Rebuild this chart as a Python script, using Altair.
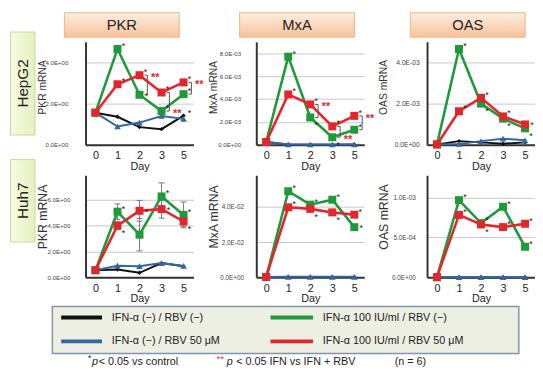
import altair as alt
import pandas as pd

# ---------------- data ----------------
days = ["0", "1", "2", "3", "5"]
series_keys = ["ctrl", "rbv", "ifn", "ifnrbv"]
series_labels = ["IFN-α (−) / RBV (−)", "IFN-α (−) / RBV 50 μM",
                 "IFN-α 100 IU/ml / RBV (−)", "IFN-α 100 IU/ml / RBV 50 μM"]
series_colors = ["#111111", "#35679f", "#1e9a3a", "#e3262c"]
series_shapes = ["diamond", "triangle-up", "square", "square"]

hep_pkr_ctrl = [1.56, 1.36, 0.86, 0.76, 1.42]
hep_pkr_rbv = [1.56, 0.89, 1.08, 1.40, 1.26]
hep_pkr_ifn = [1.56, 4.65, 2.43, 1.64, 2.46]
hep_pkr_ifnrbv = [1.56, 2.94, 3.38, 2.54, 3.03]

hep_mxa_ctrl = [0.00025, 0.00003, 0.00002, 0.00002, 0.00003]
hep_mxa_rbv = [0.00025, 0.00003, 0.00003, 0.00003, 0.00003]
hep_mxa_ifn = [0.00025, 0.0077, 0.00239, 0.00066, 0.00132]
hep_mxa_ifnrbv = [0.00025, 0.0044, 0.00353, 0.00161, 0.00253]

hep_oas_ctrl = [0.00002, 0.00018, 0.00012, 0.00005, 0.00012]
hep_oas_rbv = [0.00002, 0.00004, 0.00018, 0.0003, 0.00022]
hep_oas_ifn = [0.00002, 0.00465, 0.002, 0.00127, 0.0008]
hep_oas_ifnrbv = [0.00002, 0.00163, 0.00228, 0.00138, 0.00099]

huh_pkr_ctrl = [0.55, 0.6, 0.35, 1.1, 0.85]
huh_pkr_rbv = [0.55, 0.9, 0.86, 1.1, 0.88]
huh_pkr_ifn = [0.55, 5.08, 3.3, 6.26, 4.83]
huh_pkr_ifnrbv = [0.55, 4.0, 5.15, 5.28, 4.32]
huh_pkr_ifn_err = [0, 0.6, 1.25, 1.05, 1.0]
huh_pkr_ifnrbv_err = [0, 0.3, 0.8, 0.7, 0.4]

huh_mxa_ctrl = [0.0002, 0.0002, 0.0002, 0.0002, 0.0002]
huh_mxa_rbv = [0.0002, 0.0003, 0.0003, 0.0003, 0.0003]
huh_mxa_ifn = [0.0002, 0.0489, 0.0413, 0.0441, 0.0285]
huh_mxa_ifnrbv = [0.0002, 0.0398, 0.0389, 0.0369, 0.0356]

huh_oas_ctrl = [0.000002, 0.000002, 0.000002, 0.000002, 0.000002]
huh_oas_rbv = [0.000002, 0.000003, 0.000003, 0.000003, 0.000003]
huh_oas_ifn = [0.000002, 0.000968, 0.00068, 0.000885, 0.000383]
huh_oas_ifnrbv = [0.000002, 0.000783, 0.000663, 0.00063, 0.000672]

# significance marks: (series, day, placement)
hep_pkr_stars = [("ifn", "1", "ur"), ("ifnrbv", "1", "ur"), ("ifnrbv", "2", "ur"), ("ifn", "2", "r"),
                 ("ifnrbv", "3", "ur"), ("ifn", "3", "ur"), ("ifnrbv", "5", "ur"), ("ifn", "5", "ur"),
                 ("ctrl", "5", "ur")]
hep_mxa_stars = [("ifn", "1", "ur"), ("ifnrbv", "1", "ur"), ("ifnrbv", "2", "ur"), ("ifn", "2", "lr"),
                 ("ifnrbv", "3", "ur"), ("ifn", "3", "lr"), ("ifnrbv", "5", "ur"), ("ifn", "5", "ur")]
hep_oas_stars = [("ifn", "1", "ur"), ("ifnrbv", "1", "ur"), ("ifnrbv", "2", "ur"), ("ifn", "2", "lr"),
                 ("ifnrbv", "3", "ur"), ("ifn", "3", "lr"), ("ifnrbv", "5", "r"), ("ifn", "5", "lr")]
huh_pkr_stars = [("ifn", "1", "ur"), ("ifnrbv", "1", "lr"), ("ifnrbv", "2", "r"), ("ifn", "3", "ur"),
                 ("ifnrbv", "3", "r"), ("ifn", "5", "ur"), ("ifnrbv", "5", "lr")]
huh_mxa_stars = [("ifn", "1", "ur"), ("ifnrbv", "1", "ur"), ("ifn", "2", "ur"), ("ifnrbv", "2", "lr"),
                 ("ifn", "3", "ur"), ("ifnrbv", "3", "lr"), ("ifnrbv", "5", "ur"), ("ifn", "5", "r")]
huh_oas_stars = [("ifn", "1", "ur"), ("ifnrbv", "1", "ur"), ("ifn", "2", "ur"), ("ifnrbv", "2", "lr"),
                 ("ifn", "3", "ur"), ("ifnrbv", "3", "ur"), ("ifnrbv", "5", "ur"), ("ifn", "5", "ur")]

# IFN vs IFN+RBV brackets: (day, level of the ** mark)
hep_pkr_sig = [("2", "hi"), ("3", "lo"), ("5", "hi")]
hep_mxa_sig = [("2", "hi"), ("3", "lo"), ("5", "hi")]

panels_spec = [
    dict(gene="PKR", vals=[hep_pkr_ctrl, hep_pkr_rbv, hep_pkr_ifn, hep_pkr_ifnrbv], ymax=5.0,
         ticks=[0, 2, 4], lpad=18, lfs=6.2, stars=hep_pkr_stars, sig=hep_pkr_sig, err=None),
    dict(gene="MxA", vals=[hep_mxa_ctrl, hep_mxa_rbv, hep_mxa_ifn, hep_mxa_ifnrbv], ymax=0.009,
         ticks=[0, 0.002, 0.004, 0.006, 0.008], lpad=16, lfs=6.2, stars=hep_mxa_stars, sig=hep_mxa_sig, err=None),
    dict(gene="OAS", vals=[hep_oas_ctrl, hep_oas_rbv, hep_oas_ifn, hep_oas_ifnrbv], ymax=0.005,
         ticks=[0, 0.002, 0.004], lpad=8, lfs=6.8, stars=hep_oas_stars, sig=None, err=None),
    dict(gene="PKR", vals=[huh_pkr_ctrl, huh_pkr_rbv, huh_pkr_ifn, huh_pkr_ifnrbv], ymax=7.9,
         ticks=[0, 2, 4, 6], lpad=16, lfs=6.2, stars=huh_pkr_stars, sig=None,
         err=[huh_pkr_ifn_err, huh_pkr_ifnrbv_err]),
    dict(gene="MxA", vals=[huh_mxa_ctrl, huh_mxa_rbv, huh_mxa_ifn, huh_mxa_ifnrbv], ymax=0.058,
         ticks=[0, 0.02, 0.04], lpad=13, lfs=6.5, stars=huh_mxa_stars, sig=None, err=None),
    dict(gene="OAS", vals=[huh_oas_ctrl, huh_oas_rbv, huh_oas_ifn, huh_oas_ifnrbv], ymax=0.00128,
         ticks=[0, 0.0005, 0.001], lpad=12, lfs=6.5, stars=huh_oas_stars, sig=None, err=None),
]
cell_lines = ["HepG2", "Huh7"]

# ---------------- styling helpers ----------------
FONT = "Liberation Sans"
E = "floor(log(datum.value) / LN10 + 1e-9)"
LABEL_EXPR = ("datum.value == 0 ? '0.0E+00' : format(datum.value / pow(10, " + E + "), '.1f') + 'E' + ("
              + E + " < 0 ? '-' : '+') + (abs(" + E + ") < 10 ? '0' : '') + abs(" + E + ")")

HEAD_FILL = {"gradient": "linear", "x1": 0, "y1": 0, "x2": 0, "y2": 1,
             "stops": [{"offset": 0, "color": "#fdeee2"}, {"offset": 1, "color": "#f7c29a"}]}
ROW_FILL = {"gradient": "linear", "x1": 0, "y1": 0, "x2": 1, "y2": 0,
            "stops": [{"offset": 0, "color": "#f6fbe4"}, {"offset": 1, "color": "#e4f1bd"}]}
one = pd.DataFrame({"k": [0]})


def make_panel(p, idx):
    row, col = divmod(idx, 3)
    h = 105 if row == 0 else 104
    xenc = alt.X("day:O", sort=days, scale=alt.Scale(type="point", domain=days, padding=0.45),
                 axis=alt.Axis(title="Day", labelAngle=0, labelFontSize=11, labelColor="#222",
                               labelPadding=5, titleFontSize=11, titleFontWeight="normal",
                               titleColor="#222", titlePadding=0, ticks=False, grid=False,
                               domainColor="#333", domainWidth=2))
    yscale = alt.Scale(domain=[0, p["ymax"]], nice=False, zero=True)
    yaxis = alt.Axis(title=p["gene"] + " mRNA", values=p["ticks"], labelExpr=LABEL_EXPR,
                     labelFontSize=p["lfs"], labelColor="#444", labelPadding=p["lpad"], ticks=False,
                     grid=True, gridColor="#c8c8c8", gridWidth=1, domainColor="#333", domainWidth=2,
                     titleFontSize=10.5 if row == 0 else 12.5, titleFontWeight="normal", titleColor="#333",
                     titleX=-44, titleY=46 if row == 0 else 42, titleAngle=270, titleAlign="center",
                     titleBaseline="middle")

    def Y(field):
        return alt.Y(field + ":Q", scale=yscale, axis=yaxis)

    color = alt.Color("series:N", scale=alt.Scale(domain=series_keys, range=series_colors), legend=None)
    vals = dict(zip(series_keys, p["vals"]))

    layers = []
    # decorations: column header and row label
    if row == 0:
        x0, x1 = (-21.5, 95.5) if col == 0 else (-17, 100)
        layers.append(alt.Chart(one).mark_rect(fill=HEAD_FILL, stroke="#efb58a", strokeWidth=1).encode(
            x=alt.value(x0), x2=alt.value(x1), y=alt.value(-29.7), y2=alt.value(-4.7)))
        layers.append(alt.Chart(one).mark_text(text=p["gene"], fontSize=15, color="#222", font=FONT,
                                               baseline="middle").encode(
            x=alt.value((x0 + x1) / 2), y=alt.value(-17)))
    if col == 0:
        y0, y1 = (-10, 95) if row == 0 else (-16, 68)
        layers.append(alt.Chart(one).mark_rect(fill=ROW_FILL, stroke="#c4d99a", strokeWidth=1).encode(
            x=alt.value(-76.5), x2=alt.value(-51.5), y=alt.value(y0), y2=alt.value(y1)))
        layers.append(alt.Chart(one).mark_text(text=cell_lines[row], fontSize=15.5, color="#222", font=FONT,
                                               angle=270, baseline="middle").encode(
            x=alt.value(-64), y=alt.value((y0 + y1) / 2)))

    # error bars
    if p["err"] is not None:
        rows = []
        for key, err in zip(["ifn", "ifnrbv"], p["err"]):
            for d, v, e in zip(days, vals[key], err):
                if e > 0:
                    rows.append({"day": d, "lo": v - e, "hi": v + e})
        edf = pd.DataFrame(rows)
        layers.append(alt.Chart(edf).mark_rule(color="#777", strokeWidth=1).encode(
            x=xenc, y=Y("lo"), y2="hi"))
        for f in ["lo", "hi"]:
            layers.append(alt.Chart(edf).mark_rule(color="#777", strokeWidth=1, xOffset=-3, x2Offset=3).encode(
                x=xenc, x2=alt.X2("day:O"), y=Y(f)))

    # series
    widths = [2, 2, 2.6, 2.6]
    sizes = [20, 45, 66, 66]
    for i, key in enumerate(series_keys):
        sdf = pd.DataFrame({"day": days, "value": vals[key], "series": key})
        layers.append(alt.Chart(sdf).mark_line(strokeWidth=widths[i]).encode(
            x=xenc, y=Y("value"), color=color))
        layers.append(alt.Chart(sdf).mark_point(filled=True, opacity=1, shape=series_shapes[i],
                                                size=sizes[i]).encode(
            x=xenc, y=Y("value"), color=color))

    # * marks
    offs = {"ur": (6, -5), "lr": (6, 6), "r": (7, -1)}
    for pos, (dx, dy) in offs.items():
        rows = [{"day": d, "value": vals[s][days.index(d)]} for s, d, pp in p["stars"] if pp == pos]
        if rows:
            layers.append(alt.Chart(pd.DataFrame(rows)).mark_text(
                text="*", dx=dx, dy=dy + 2, fontSize=9, color="#222", font=FONT, baseline="middle").encode(
                x=xenc, y=Y("value")))

    # ** brackets
    if p["sig"] is not None:
        rows = []
        for d, lvl in p["sig"]:
            a = vals["ifn"][days.index(d)]
            b = vals["ifnrbv"][days.index(d)]
            rows.append({"day": d, "lo": min(a, b), "hi": max(a, b),
                         "txt": max(a, b) if lvl == "hi" else min(a, b)})
        bdf = pd.DataFrame(rows)
        layers.append(alt.Chart(bdf).mark_rule(color="#555", strokeWidth=1, xOffset=8).encode(
            x=xenc, y=Y("lo"), y2="hi"))
        for f in ["lo", "hi"]:
            layers.append(alt.Chart(bdf).mark_rule(color="#555", strokeWidth=1, xOffset=5, x2Offset=8).encode(
                x=xenc, x2=alt.X2("day:O"), y=Y(f)))
        layers.append(alt.Chart(bdf).mark_text(text="**", dx=16, dy=3, fontSize=11, fontWeight="bold",
                                               color="#e3262c", font=FONT, baseline="middle").encode(
            x=xenc, y=Y("txt")))

    # legend + footnote (drawn below the bottom-left panel)
    if idx == 3:
        layers.append(alt.Chart(one).mark_rect(fill="#edefe3", stroke="#8494aa", strokeWidth=1.5).encode(
            x=alt.value(-33.8), x2=alt.value(441.5), y=alt.value(133.7), y2=alt.value(181.7)))
        pos = [(-24.8, 16.8, 26.8, 145), (-24.8, 16.8, 26.8, 169.3),
               (188.5, 231.8, 241.8, 145), (188.5, 231.8, 241.8, 169.3)]
        for i, key in enumerate(series_keys):
            lx0, lx1, tx, ty = pos[i]
            ldf = pd.DataFrame({"series": [key], "label": [series_labels[i]]})
            layers.append(alt.Chart(ldf).mark_rule(strokeWidth=4).encode(
                x=alt.value(lx0), x2=alt.value(lx1), y=alt.value(ty), color=color))
            layers.append(alt.Chart(ldf).mark_text(align="left", baseline="middle", fontSize=11,
                                                   color="#222", font=FONT).encode(
                x=alt.value(tx), y=alt.value(ty), text="label:N"))
        notes = [("*", 2.5, 186, "#222", "normal", 9),
                 ("p", 6.5, 190, "#222", "italic", 11),
                 ("< 0.05 vs control", 13.5, 190, "#222", "normal", 11),
                 ("**", 133.5, 187, "#e3262c", "normal", 10),
                 ("p", 144, 190, "#222", "italic", 11),
                 ("< 0.05 IFN vs IFN + RBV", 153.5, 190, "#222", "normal", 11),
                 ("(n = 6)", 315, 190, "#222", "normal", 11)]
        for t, nx, ny, c, st, fs in notes:
            layers.append(alt.Chart(one).mark_text(text=t, align="left", baseline="middle", fontSize=fs,
                                                   fontStyle=st, color=c, font=FONT).encode(
                x=alt.value(nx), y=alt.value(ny)))

    return alt.layer(*layers).properties(width=110, height=h)


panels = [make_panel(p, i) for i, p in enumerate(panels_spec)]

chart = alt.concat(*panels, columns=3, spacing={"row": 31, "column": 64}, bounds="flush").properties(
    padding={"left": 2, "top": 0, "right": 0, "bottom": 0}
).configure(font=FONT).configure_view(strokeWidth=0)

chart.save("out.html", embed_options={"renderer": "svg", "actions": False})
